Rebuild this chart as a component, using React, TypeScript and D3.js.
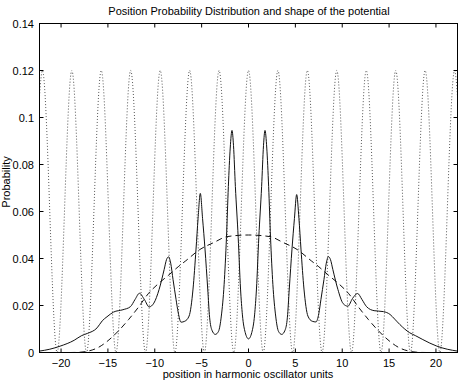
import React from "react";
import * as d3 from "d3";

// position axis, harmonic oscillator units
const xTicks = [-20, -15, -10, -5, 0, 5, 10, 15, 20];
const yTicks = [0, 0.02, 0.04, 0.06, 0.08, 0.1, 0.12, 0.14];

// solid: position probability distribution
const probX = [
  -22.3, -21.2, -20.1, -18.6, -17.8, -17.2, -16.15, -15.6, -15.1, -14.4, -13.4, -12.6, -12.1, -11.64, -11.1, -10.6,
  -10.1, -9.54, -9.0, -8.75, -8.53, -8.3, -8.05, -7.73, -7.5, -7.2, -6.8, -6.34, -5.92, -5.6, -5.38, -5.14, -4.9,
  -4.64, -4.35, -4.15, -3.9, -3.54, -3.2, -2.9, -2.6, -2.35, -2.15, -1.95, -1.76, -1.6, -1.4, -1.1, -0.85, -0.65,
  -0.35, 0, 0.35, 0.65, 0.85, 1.1, 1.4, 1.6, 1.76, 1.95, 2.15, 2.35, 2.6, 2.9, 3.2, 3.54, 3.9, 4.15, 4.35, 4.64,
  4.9, 5.14, 5.38, 5.6, 5.92, 6.34, 6.8, 7.2, 7.5, 7.73, 8.05, 8.3, 8.53, 8.75, 9.0, 9.54, 10.1, 10.6, 11.1, 11.64,
  12.1, 12.6, 13.4, 14.4, 15.1, 15.6, 16.15, 17.2, 17.8, 18.6, 20.1, 21.2, 22.3,
];
const probY = [
  0.0006, 0.0014, 0.0027, 0.0052, 0.0072, 0.0081, 0.0105, 0.0135, 0.0152, 0.0172, 0.0182, 0.0195, 0.0226, 0.0252,
  0.0225, 0.0194, 0.021, 0.0268, 0.0353, 0.0395, 0.0407, 0.038, 0.031, 0.0226, 0.017, 0.0129, 0.0133, 0.0155, 0.027,
  0.044, 0.057, 0.0677, 0.057, 0.044, 0.027, 0.015, 0.0095, 0.0077, 0.009, 0.0155, 0.029, 0.049, 0.0706, 0.087,
  0.0945, 0.088, 0.0706, 0.049, 0.027, 0.016, 0.0085, 0.0058, 0.0085, 0.016, 0.027, 0.049, 0.0706, 0.088, 0.0945,
  0.087, 0.0706, 0.049, 0.029, 0.0155, 0.009, 0.0077, 0.0095, 0.015, 0.027, 0.044, 0.057, 0.0672, 0.057, 0.044,
  0.027, 0.0155, 0.0133, 0.013, 0.0165, 0.0226, 0.031, 0.038, 0.0408, 0.0395, 0.0353, 0.0268, 0.0208, 0.0197, 0.023,
  0.0251, 0.0226, 0.0195, 0.0178, 0.0174, 0.0162, 0.0142, 0.0119, 0.0084, 0.0072, 0.0055, 0.0027, 0.0014, 0.0006,
];

// dashed: smooth envelope
const envX = [
  -22.3, -19, -18, -17, -16, -15, -13.8, -12.8, -11.7, -10.7, -9.7, -8.5, -7.5, -6.7, -5.2, -3.7, -2.3, 0, 2.3, 3.7,
  5.2, 6.7, 7.5, 8.5, 9.7, 10.7, 11.7, 12.8, 13.8, 15, 16, 17, 18, 19, 22.3,
];
const envY = [
  0, 0, 0.0001, 0.0007, 0.0022, 0.005, 0.0095, 0.014, 0.0195, 0.025, 0.029, 0.033, 0.0365, 0.039, 0.0438, 0.0468,
  0.0493, 0.05, 0.0493, 0.0468, 0.0438, 0.039, 0.0365, 0.033, 0.029, 0.025, 0.0195, 0.014, 0.0095, 0.005, 0.0022,
  0.0007, 0.0001, 0, 0,
];

// dotted: periodic potential, peaks and zeros
const potX = [
  -22.3, -21.99, -20.42, -18.85, -17.28, -15.71, -14.14, -12.57, -10.99, -9.42, -7.85, -6.28, -4.71, -3.14, -1.57, 0,
  1.57, 3.14, 4.71, 6.28, 7.85, 9.42, 10.99, 12.57, 14.14, 15.71, 17.28, 18.85, 20.42, 21.99, 22.3,
];
const potY = [
  0.109, 0.12, 0, 0.12, 0, 0.12, 0, 0.12, 0, 0.12, 0, 0.12, 0, 0.12, 0, 0.12, 0, 0.12, 0, 0.12, 0, 0.12, 0, 0.12, 0,
  0.12, 0, 0.12, 0, 0.12, 0.109,
];

const W = 461;
const H = 382;
const margin = { top: 23.5, right: 3.5, bottom: 29.5, left: 39.5 };
const font = "'Liberation Sans', Arial, Helvetica, sans-serif";

export default function App() {
  const x = d3.scaleLinear().domain([-22.3, 22.3]).range([margin.left, W - margin.right]);
  const y = d3.scaleLinear().domain([0, 0.14]).range([H - margin.bottom, margin.top]);

  const mk = (xs: number[], ys: number[]) =>
    d3
      .line<number>()
      .x((d, i) => x(xs[i]))
      .y((d) => y(d))
      .curve(d3.curveMonotoneX)(ys) || "";

  const x0 = margin.left;
  const x1 = W - margin.right;
  const y0 = H - margin.bottom;
  const y1 = margin.top;
  const tl = 4;

  return (
    <svg
      width={W}
      height={H}
      style={{ position: "absolute", left: 0, top: 0, background: "#fff" }}
      fontFamily={font}
    >
      <defs>
        <clipPath id="plot">
          <rect x={x0} y={y1} width={x1 - x0} height={y0 - y1} />
        </clipPath>
      </defs>
      <rect width={W} height={H} fill="#fff" />
      <g clipPath="url(#plot)" fill="none">
        <path d={mk(potX, potY)} stroke="#444" strokeWidth={0.9} strokeDasharray="1,2" />
        <path d={mk(envX, envY)} stroke="#111" strokeWidth={1} strokeDasharray="6,4" />
        <path d={mk(probX, probY)} stroke="#111" strokeWidth={1} />
      </g>
      <rect x={x0} y={y1} width={x1 - x0} height={y0 - y1} fill="none" stroke="#000" strokeWidth={1} />
      {xTicks.map((t) => (
        <g key={"x" + t}>
          <line x1={x(t)} x2={x(t)} y1={y0} y2={y0 - tl} stroke="#000" />
          <line x1={x(t)} x2={x(t)} y1={y1} y2={y1 + tl} stroke="#000" />
          <text x={x(t)} y={367} fontSize={11} textAnchor="middle">
            {t < 0 ? "\u2212" + Math.abs(t) : String(t)}
          </text>
        </g>
      ))}
      {yTicks.map((t) => (
        <g key={"y" + t}>
          <line x1={x0} x2={x0 + tl} y1={y(t)} y2={y(t)} stroke="#000" />
          <line x1={x1} x2={x1 - tl} y1={y(t)} y2={y(t)} stroke="#000" />
          <text x={34} y={y(t) + 4} fontSize={11} textAnchor="end">
            {String(t)}
          </text>
        </g>
      ))}
      <text x={249} y={15} fontSize={11} textAnchor="middle">
        Position Probability Distribution and shape of the potential
      </text>
      <text x={248} y={378} fontSize={11} textAnchor="middle">
        position in harmonic oscillator units
      </text>
      <text transform={`translate(10,${(y0 + y1) / 2 - 6}) rotate(-90)`} fontSize={11} textAnchor="middle">
        Probability
      </text>
    </svg>
  );
}
